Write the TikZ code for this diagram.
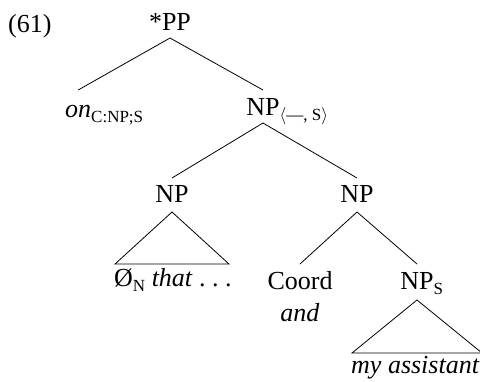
\documentclass[tikz,border=0pt]{standalone}
\usepackage{fontspec}
\setmainfont{Liberation Serif}
\newcommand{\subx}[1]{\rlap{\raisebox{-0.22em}{\fontsize{17}{17}\selectfont #1}}}
\newcommand{\subi}[1]{\raisebox{-0.22em}{\fontsize{17}{17}\selectfont #1}}
\tikzset{
  lab/.style={inner sep=0pt, anchor=base, font=\fontsize{26}{31}\selectfont},
  branch/.style={line width=0.8pt},
}
\begin{document}
\begin{tikzpicture}[x=1pt,y=-1pt]
\useasboundingbox (0,0) rectangle (480,381);
\node[lab, anchor=base west] (ex) at (8,32) {(61)};
\node[lab] (pp) at (170,30) {*PP};
\node[lab, anchor=base west] (on) at (65,117) {\textit{on}\subx{C:NP;S}};
\node[lab] (np) at (263,115) {NP\subx{$\langle$—, S$\rangle$}};
\node[lab] (npl) at (172,202) {NP};
\node[lab] (npr) at (357,202) {NP};
\node[lab, anchor=base west] (zero) at (114,286) {Ø\subi{N} \textit{that} .\ .\ .};
\node[lab] (coord) at (300,289) {Coord};
\node[lab] (and) at (300,321) {\textit{and}};
\node[lab] (nps) at (417,289) {NP\subx{S}};
\node[lab, anchor=base west] (my) at (351,373) {\textit{my assistant}};

\draw[branch] ([yshift=-8pt]pp.base) -- ([yshift=27pt]on.base);
\draw[branch] ([yshift=-8pt]pp.base) -- ([yshift=25pt]np.base);
\draw[branch] ([yshift=-8pt]np.base) -- ([yshift=24pt]npl.base);
\draw[branch] ([yshift=-8pt]np.base) -- ([yshift=24pt]npr.base);
\draw[branch] ([yshift=-10pt]npl.base) -- ++(-57,52) -- ++(114,0) -- cycle;
\draw[branch] ([yshift=-10pt]npr.base) -- ([yshift=25pt]coord.base);
\draw[branch] ([yshift=-10pt]npr.base) -- ([yshift=25pt]nps.base);
\draw[branch] ([yshift=-11pt]nps.base) -- ++(-65,53) -- ++(130,0) -- cycle;
\end{tikzpicture}
\end{document}
